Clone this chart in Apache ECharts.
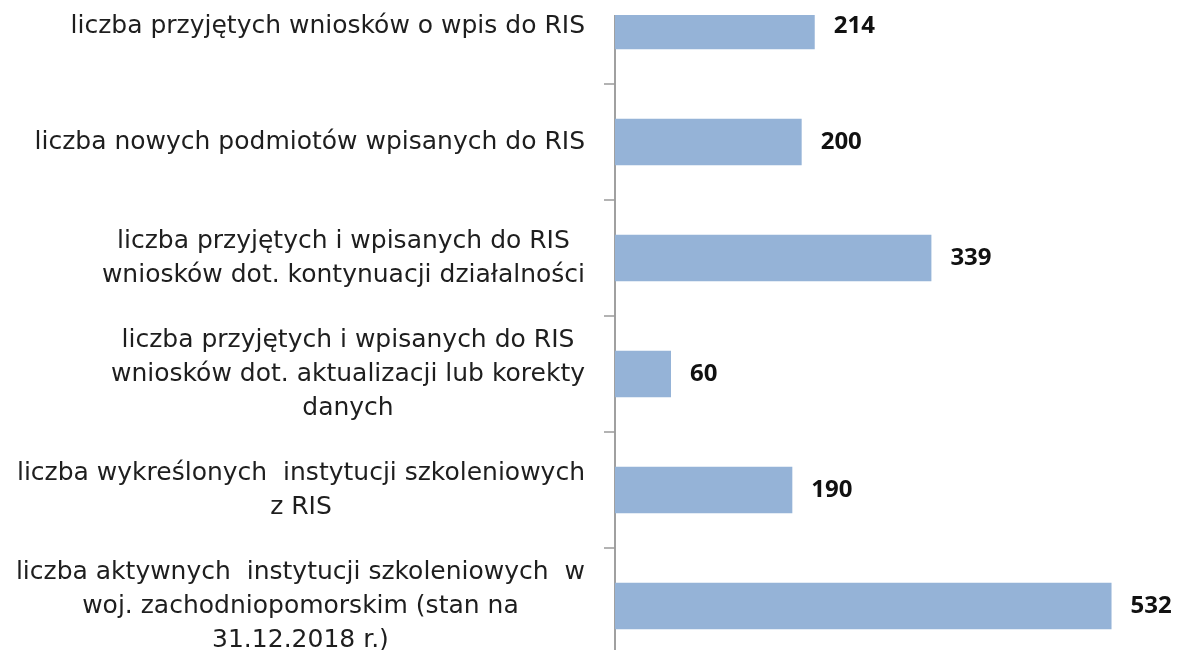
<!DOCTYPE html>
<html>
<head>
<meta charset="utf-8">
<script src="https://cdn.jsdelivr.net/npm/echarts@6/dist/echarts.min.js"></script>
<style>
  html, body { margin: 0; padding: 0; background: #fff; }
  #chart { width: 1177px; height: 650px; }
</style>
</head>
<body>
<div id="chart"></div>
<script>
// kategorie (od góry)
const categories = [
  'liczba przyjętych wniosków o wpis do RIS',
  'liczba nowych podmiotów wpisanych do RIS',
  'liczba przyjętych i wpisanych do RIS\nwniosków dot. kontynuacji działalności',
  'liczba przyjętych i wpisanych do RIS\nwniosków dot. aktualizacji lub korekty\ndanych',
  'liczba wykreślonych  instytucji szkoleniowych\nz RIS',
  'liczba aktywnych  instytucji szkoleniowych  w\nwoj. zachodniopomorskim (stan na\n31.12.2018 r.)'
]
// wartości
const values = [214, 200, 339, 60, 190, 532]

const myChart = echarts.init(document.getElementById('chart'))

myChart.setOption({
  animation: false,
  grid: {
    left: 615,
    right: 2,
    top: -32, // pierwsza kategoria jest ucięta u góry
    bottom: -14,
    outerBoundsMode: 'none'
  },
  xAxis: {
    type: 'value',
    min: 0,
    max: 600,
    show: false
  },
  yAxis: {
    type: 'category',
    data: categories,
    inverse: true,
    axisLine: { show: true, lineStyle: { color: '#a0a0a0', width: 2 } },
    axisTick: { show: true, length: 11, lineStyle: { color: '#9a9a9a', width: 1.5 } },
    axisLabel: {
      margin: 30,
      align: 'right',
      formatter: v => '{c|' + v + '}',
      rich: {
        c: {
          align: 'center',
          fontFamily: '"DejaVu Sans", sans-serif',
          fontSize: 25,
          lineHeight: 34,
          color: '#1e1e1e'
        }
      }
    }
  },
  series: [
    {
      type: 'bar',
      data: values,
      barCategoryGap: '60%',
      itemStyle: { color: '#95b3d7' },
      label: {
        show: true,
        position: 'right',
        distance: 19,
        fontFamily: '"Open Sans", sans-serif',
        fontSize: 24,
        fontWeight: 'bold',
        color: '#111'
      }
    }
  ],
  // biały pasek u góry (obraz był przycięty)
  graphic: [
    {
      type: 'rect',
      left: 596,
      top: 0,
      shape: { width: 581, height: 15 },
      style: { fill: '#fff' },
      z: 100
    }
  ]
})
</script>
</body>
</html>
